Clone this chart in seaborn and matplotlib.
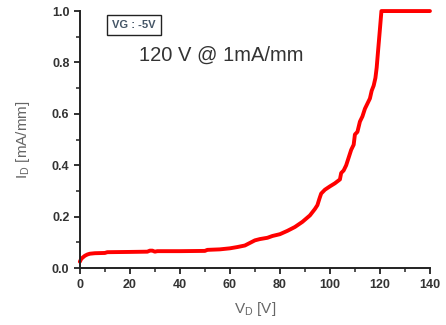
import numpy as np
import pandas as pd
import matplotlib
matplotlib.use("Agg")
import matplotlib.pyplot as plt
import seaborn as sns
from matplotlib.ticker import MultipleLocator

# drain voltage (V) and drain current (mA/mm)
vd = [0, 0.5, 1, 2, 3, 4, 6, 10, 11, 20, 27, 28, 29, 30, 31, 40, 50, 51, 56, 60,
      63, 66, 68, 70, 72, 75, 77, 80, 83, 86, 89, 92, 94, 95, 95.8, 96.5, 98, 100,
      102, 104, 104.5, 105.5, 106.5, 107.5, 108.5, 109.5, 110, 111, 112, 113, 114,
      115, 116, 116.7, 117.5, 118.2, 118.7, 119.3, 120.0, 120.6, 140]
id_ = [0.025, 0.035, 0.04, 0.048, 0.053, 0.056, 0.058, 0.059, 0.062, 0.063, 0.064,
       0.068, 0.068, 0.064, 0.066, 0.066, 0.067, 0.071, 0.073, 0.077, 0.082, 0.088,
       0.098, 0.108, 0.113, 0.118, 0.125, 0.132, 0.145, 0.16, 0.18, 0.205, 0.23,
       0.245, 0.27, 0.29, 0.305, 0.318, 0.33, 0.345, 0.37, 0.38, 0.40, 0.43, 0.46,
       0.48, 0.52, 0.53, 0.57, 0.59, 0.62, 0.64, 0.66, 0.69, 0.71, 0.74, 0.78,
       0.85, 0.93, 1.0, 1.0]

x_ticks = [0, 20, 40, 60, 80, 100, 120, 140]
y_ticks = [0.0, 0.2, 0.4, 0.6, 0.8, 1.0]

sns.set_style("ticks")
plt.rcParams["font.family"] = ["Liberation Sans", "DejaVu Sans"]

df = pd.DataFrame({"VD": vd, "ID": id_})

fig = plt.figure(figsize=(4.46, 3.25), dpi=100)
ax = fig.add_axes([0.179, 0.175, 0.785, 0.791])

sns.lineplot(data=df, x="VD", y="ID", color="red", linewidth=2.8, ax=ax,
             clip_on=False, sort=False)

ax.set_xlim(0, 140)
ax.set_ylim(0, 1.0)
ax.set_xticks(x_ticks)
ax.set_yticks(y_ticks)
ax.set_xticklabels([str(t) for t in x_ticks])
ax.set_yticklabels([f"{t:.1f}" for t in y_ticks])
ax.xaxis.set_minor_locator(MultipleLocator(10))
ax.yaxis.set_minor_locator(MultipleLocator(0.1))

sns.despine(ax=ax)
for side in ["left", "bottom"]:
    ax.spines[side].set_color("#222222")
    ax.spines[side].set_linewidth(1.4)
ax.tick_params(which="major", direction="out", length=4, width=1.3,
               color="#222222", labelsize=9, labelcolor="#333333")
ax.tick_params(which="minor", direction="out", length=3, width=1.1, color="#222222")
for lab in ax.get_xticklabels() + ax.get_yticklabels():
    lab.set_fontweight("bold")

ax.set_xlabel(r"V$_\mathregular{D}$ [V]", fontsize=11, color="#666666", labelpad=7)
ax.set_ylabel(r"I$_\mathregular{D}$ [mA/mm]", fontsize=11, color="#666666", labelpad=14)

ax.text(0.154, 0.947, "VG : -5V", transform=ax.transAxes, fontsize=8,
        fontweight="bold", color="#445566", va="center", ha="center",
        bbox=dict(boxstyle="square,pad=0.45", fc="white", ec="#222222", lw=1.0))
ax.text(0.17, 0.83, "120 V @ 1mA/mm", transform=ax.transAxes, fontsize=14.5,
        color="#333333", va="center", ha="left")

fig.savefig("out.png", dpi=100)
